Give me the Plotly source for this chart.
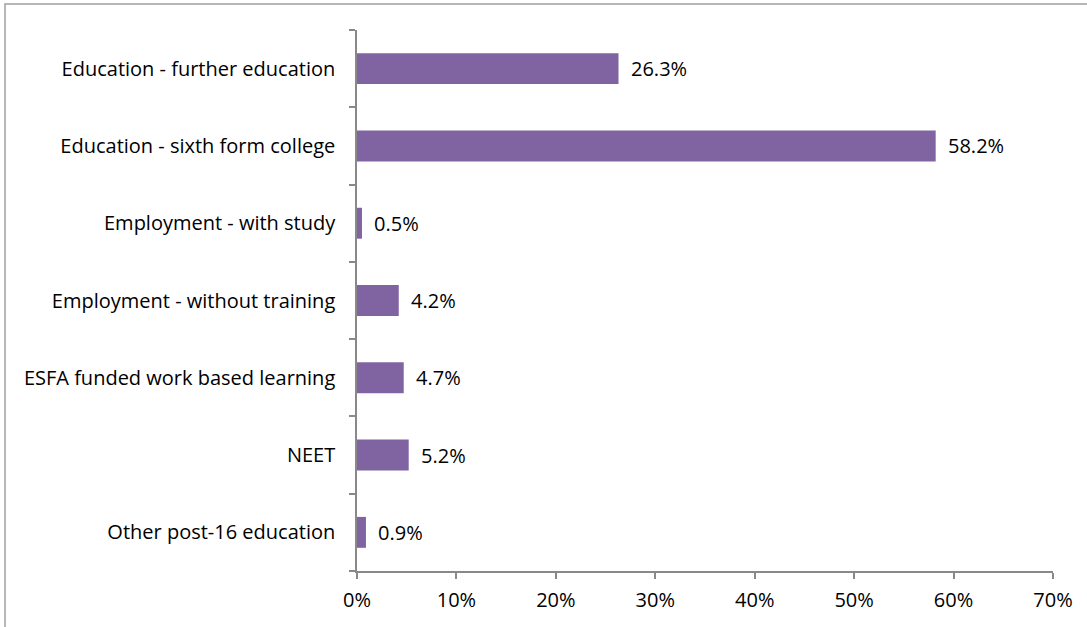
import plotly.graph_objects as go

categories = [
    "Education - further education",
    "Education - sixth form college",
    "Employment - with study",
    "Employment - without training",
    "ESFA funded work based learning",
    "NEET",
    "Other post-16 education",
]
values = [26.3, 58.2, 0.5, 4.2, 4.7, 5.2, 0.9]
x_ticks = [0, 10, 20, 30, 40, 50, 60, 70]

W, H = 1087, 627
L, R, T, B = 357, 34, 30, 56
FONT = dict(family="Open Sans, sans-serif", size=20, color="#000000")
AXIS = "#898989"

fig = go.Figure(go.Bar(
    y=categories, x=values, orientation="h",
    marker=dict(color="#8064A2", line=dict(width=0)),
    width=0.4, hoverinfo="skip",
))

for c, v in zip(categories, values):
    fig.add_annotation(x=v, y=c, xref="x", yref="y", text=f"{v:.1f}%",
                       showarrow=False, xanchor="left", xshift=10, font=FONT)

pw, ph = W - L - R, H - T - B
fig.update_layout(
    width=W, height=H,
    margin=dict(l=L, r=R, t=T, b=B, pad=0),
    paper_bgcolor="white", plot_bgcolor="white",
    showlegend=False, font=FONT,
    xaxis=dict(range=[0, 70], tickvals=x_ticks, ticktext=[f"{t}%" for t in x_ticks],
               showgrid=False, zeroline=False, showline=True, linecolor=AXIS, linewidth=1.5,
               ticks="outside", ticklen=6, tickcolor=AXIS, tickwidth=1.5, tickfont=FONT,
               ticklabelstandoff=4, automargin=False, fixedrange=True),
    yaxis=dict(categoryorder="array", categoryarray=categories[::-1], autorange=False,
               range=[-0.5, len(categories) - 0.5],
               showgrid=False, zeroline=False, showline=True, linecolor=AXIS, linewidth=1.5,
               ticks="outside", ticklen=6, tickcolor=AXIS, tickwidth=1.5, tickfont=FONT,
               tickson="boundaries", ticklabelstandoff=16, automargin=False, fixedrange=True),
    shapes=[dict(type="rect", xref="paper", yref="paper",
                 x0=(5 - L) / pw, x1=(W + 20 - L) / pw,
                 y0=(H - B - (H + 20)) / ph, y1=(H - B - 4) / ph,
                 line=dict(color="#A0A0A0", width=1.5), fillcolor="rgba(0,0,0,0)", layer="below")],
)

fig.write_html("out.html", config={"displayModeBar": False},
               post_script="document.body.style.margin='0';document.body.style.overflow='hidden';")
